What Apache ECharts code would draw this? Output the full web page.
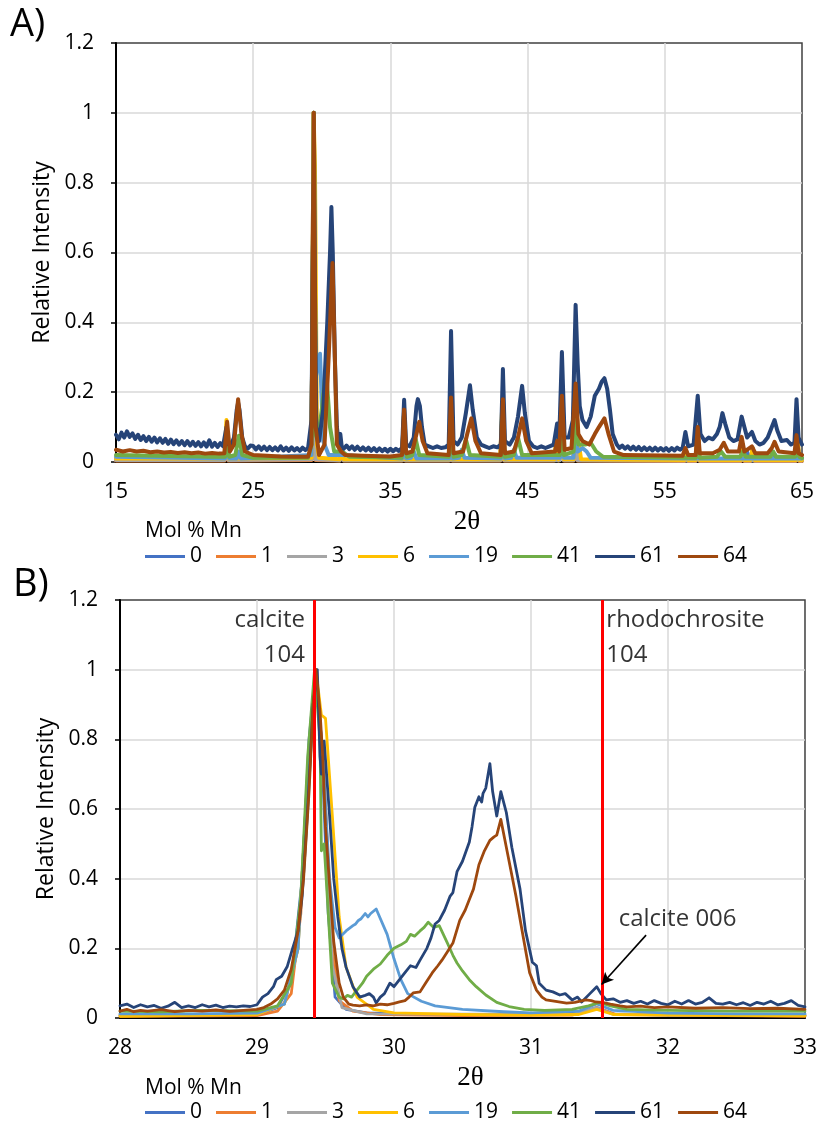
<!DOCTYPE html>
<html>
<head>
<meta charset="utf-8">
<script src="https://cdn.jsdelivr.net/npm/echarts@6/dist/echarts.min.js"></script>
<style>
  html, body { margin: 0; padding: 0; background: #fff; }
  #main { width: 820px; height: 1122px; }
</style>
</head>
<body>
<div id="main"></div>
<script>
// legend names (Mol % Mn) and Excel colours
var seriesNames = ['0', '1', '3', '6', '19', '41', '61', '64'];
var colors = ['#4472C4', '#ED7D31', '#A5A5A5', '#FFC000', '#5B9BD5', '#70AD47', '#264478', '#9E480E'];

var xTicksTop = [15, 25, 35, 45, 55, 65];
var xTicksBot = [28, 29, 30, 31, 32, 33];
var refLines = [29.42, 31.52];   // calcite 104, rhodochrosite 104

// ---- panel A : 15-65 2theta ----
var top0 = [[15,0.008],[22.9,0.008],[23.05,0.08],[23.2,0.008],[29.25,0.01],[29.4,1.0],[29.55,0.01],[31.3,0.006],[31.45,0.03],[31.6,0.006],[35.85,0.006],[35.97,0.12],[36.1,0.006],[39.28,0.006],[39.4,0.18],[39.52,0.006],[43.0,0.006],[43.15,0.14],[43.3,0.006],[46.95,0.006],[47.1,0.06],[47.25,0.006],[47.35,0.006],[47.5,0.17],[47.65,0.006],[48.35,0.006],[48.5,0.17],[48.65,0.006],[56.45,0.005],[56.57,0.03],[56.7,0.005],[57.25,0.005],[57.4,0.08],[57.55,0.005],[60.55,0.005],[60.68,0.05],[60.8,0.005],[60.9,0.005],[61.0,0.03],[61.1,0.005],[61.25,0.005],[61.4,0.04],[61.55,0.005],[62.95,0.005],[63.05,0.02],[63.15,0.005],[64.55,0.005],[64.68,0.06],[64.8,0.005],[65,0.005]];
var top1 = [[15,0.004],[22.9,0.004],[23.05,0.09],[23.2,0.004],[29.25,0.006],[29.4,1.0],[29.55,0.006],[31.3,0.004],[31.45,0.03],[31.6,0.004],[35.85,0.004],[35.97,0.11],[36.1,0.004],[39.28,0.004],[39.4,0.17],[39.52,0.004],[43.0,0.004],[43.15,0.13],[43.3,0.004],[46.95,0.004],[47.1,0.05],[47.25,0.004],[47.35,0.004],[47.5,0.16],[47.65,0.004],[48.35,0.004],[48.5,0.16],[48.65,0.004],[56.45,0.003],[56.57,0.025],[56.7,0.003],[57.25,0.003],[57.4,0.07],[57.55,0.003],[60.55,0.003],[60.68,0.045],[60.8,0.003],[61.25,0.003],[61.4,0.035],[61.55,0.003],[64.55,0.003],[64.68,0.05],[64.8,0.003],[65,0.003]];
var top3 = [[15,0.006],[22.9,0.006],[23.05,0.085],[23.2,0.006],[29.25,0.008],[29.4,1.0],[29.55,0.008],[31.3,0.005],[31.45,0.03],[31.6,0.005],[35.85,0.005],[35.97,0.115],[36.1,0.005],[39.28,0.005],[39.4,0.175],[39.52,0.005],[43.0,0.005],[43.15,0.135],[43.3,0.005],[47.35,0.005],[47.5,0.165],[47.65,0.005],[48.35,0.005],[48.5,0.165],[48.65,0.005],[57.25,0.004],[57.4,0.075],[57.55,0.004],[60.55,0.004],[60.68,0.045],[60.8,0.004],[64.55,0.004],[64.68,0.055],[64.8,0.004],[65,0.004]];
var top6 = [[15,0.01],[22.9,0.01],[23.05,0.12],[23.2,0.01],[29.25,0.012],[29.4,1.0],[29.5,0.85],[29.65,0.05],[29.8,0.012],[31.3,0.008],[31.45,0.03],[31.6,0.008],[35.85,0.008],[35.97,0.13],[36.1,0.008],[39.28,0.008],[39.4,0.19],[39.52,0.008],[43.0,0.008],[43.15,0.16],[43.3,0.008],[46.95,0.008],[47.1,0.07],[47.25,0.008],[47.35,0.008],[47.5,0.2],[47.65,0.008],[48.35,0.008],[48.5,0.2],[48.7,0.06],[48.9,0.008],[56.45,0.006],[56.57,0.03],[56.7,0.006],[57.25,0.006],[57.4,0.09],[57.55,0.006],[60.55,0.006],[60.68,0.05],[60.8,0.006],[61.25,0.006],[61.4,0.04],[61.55,0.006],[64.55,0.006],[64.68,0.07],[64.8,0.006],[65,0.006]];
var top19 = [[15,0.015],[22.95,0.01],[23.1,0.045],[23.25,0.01],[23.8,0.01],[23.95,0.03],[24.1,0.01],[29.25,0.02],[29.42,1.0],[29.55,0.24],[29.87,0.31],[30.1,0.06],[30.5,0.02],[31.5,0.02],[35.85,0.01],[36.0,0.05],[36.15,0.01],[36.5,0.012],[36.7,0.03],[36.9,0.01],[39.28,0.01],[39.42,0.08],[39.55,0.01],[40.0,0.012],[40.2,0.035],[40.4,0.012],[43.05,0.01],[43.2,0.07],[43.35,0.01],[43.8,0.012],[44.0,0.035],[44.2,0.012],[47.35,0.012],[47.5,0.08],[47.65,0.012],[48.35,0.012],[48.5,0.1],[48.65,0.03],[49.0,0.04],[49.3,0.03],[49.6,0.012],[57.3,0.01],[57.4,0.03],[57.5,0.01],[65,0.01]];
var top41 = [[15,0.02],[18,0.018],[22,0.015],[22.95,0.015],[23.1,0.05],[23.25,0.015],[23.7,0.02],[23.95,0.075],[24.2,0.02],[25,0.012],[29,0.012],[29.25,0.05],[29.42,1.0],[29.55,0.08],[29.7,0.06],[30.0,0.15],[30.3,0.27],[30.6,0.1],[30.9,0.03],[31.5,0.03],[32,0.015],[35.8,0.012],[36.0,0.06],[36.2,0.015],[36.6,0.02],[36.85,0.065],[37.1,0.02],[39.25,0.015],[39.42,0.1],[39.6,0.015],[40.2,0.02],[40.5,0.065],[40.8,0.02],[43.05,0.015],[43.2,0.1],[43.35,0.015],[44.0,0.02],[44.3,0.07],[44.6,0.02],[47.35,0.02],[47.5,0.1],[47.65,0.02],[48.35,0.03],[48.5,0.12],[48.7,0.05],[49.2,0.05],[49.6,0.055],[50.0,0.03],[50.5,0.015],[57.25,0.012],[57.4,0.03],[57.55,0.012],[58.8,0.015],[59.1,0.03],[59.4,0.015],[60.5,0.015],[60.7,0.03],[60.9,0.015],[62.7,0.015],[62.9,0.03],[63.1,0.015],[64.5,0.015],[64.65,0.035],[64.8,0.015],[65,0.012]];
var top61 = [[15.0,0.078],[15.2,0.065],[15.4,0.084],[15.6,0.07],[15.8,0.088],[16.0,0.072],[16.2,0.082],[16.4,0.066],[16.6,0.078],[16.8,0.063],[17.0,0.074],[17.2,0.06],[17.4,0.072],[17.6,0.058],[17.8,0.07],[18.0,0.056],[18.2,0.068],[18.4,0.055],[18.6,0.066],[18.8,0.052],[19.0,0.064],[19.2,0.051],[19.4,0.062],[19.6,0.05],[19.8,0.06],[20.0,0.048],[20.2,0.06],[20.4,0.047],[20.6,0.058],[20.8,0.046],[21.0,0.057],[21.2,0.045],[21.4,0.056],[21.6,0.044],[21.8,0.062],[22.0,0.044],[22.2,0.055],[22.4,0.043],[22.6,0.054],[22.8,0.045],[23.05,0.1],[23.2,0.05],[23.4,0.05],[23.6,0.07],[23.8,0.15],[23.9,0.17],[24.0,0.15],[24.2,0.07],[24.4,0.045],[24.6,0.038],[24.8,0.047],[25.0,0.046],[25.2,0.036],[25.4,0.045],[25.6,0.035],[25.8,0.044],[26.0,0.034],[26.2,0.043],[26.4,0.034],[26.6,0.042],[26.8,0.033],[27.0,0.045],[27.2,0.033],[27.4,0.041],[27.6,0.032],[27.8,0.042],[28.0,0.033],[28.2,0.04],[28.4,0.032],[28.6,0.041],[28.8,0.034],[29.0,0.04],[29.1,0.045],[29.25,0.12],[29.35,0.6],[29.42,0.8],[29.5,0.5],[29.6,0.1],[29.8,0.06],[30.1,0.15],[30.4,0.4],[30.6,0.6],[30.7,0.73],[30.8,0.6],[30.95,0.3],[31.1,0.1],[31.25,0.05],[31.35,0.08],[31.45,0.045],[31.6,0.038],[31.8,0.047],[32.0,0.037],[32.2,0.045],[32.4,0.035],[32.6,0.044],[32.8,0.034],[33.0,0.042],[33.2,0.033],[33.4,0.041],[33.6,0.032],[33.8,0.04],[34.0,0.031],[34.2,0.039],[34.4,0.031],[34.6,0.038],[34.8,0.03],[35.0,0.038],[35.2,0.031],[35.4,0.038],[35.6,0.032],[35.85,0.04],[36.0,0.178],[36.15,0.05],[36.4,0.045],[36.7,0.07],[36.9,0.16],[37.0,0.18],[37.15,0.16],[37.3,0.1],[37.5,0.05],[37.8,0.045],[38.1,0.04],[38.4,0.045],[38.7,0.04],[39.0,0.042],[39.25,0.05],[39.42,0.375],[39.6,0.06],[39.9,0.05],[40.2,0.07],[40.5,0.14],[40.8,0.22],[41.0,0.15],[41.3,0.07],[41.6,0.05],[41.9,0.045],[42.2,0.04],[42.5,0.045],[42.8,0.042],[43.05,0.05],[43.2,0.266],[43.35,0.06],[43.7,0.05],[44.0,0.07],[44.3,0.13],[44.6,0.218],[44.8,0.14],[45.1,0.06],[45.4,0.045],[45.7,0.04],[46.0,0.045],[46.3,0.04],[46.6,0.045],[46.9,0.05],[47.15,0.11],[47.3,0.06],[47.5,0.315],[47.7,0.07],[48.0,0.07],[48.3,0.12],[48.5,0.45],[48.65,0.28],[48.8,0.16],[49.0,0.12],[49.3,0.1],[49.6,0.13],[49.9,0.19],[50.2,0.21],[50.4,0.23],[50.6,0.24],[50.8,0.21],[51.0,0.15],[51.2,0.08],[51.5,0.05],[51.7,0.04],[51.9,0.047],[52.1,0.038],[52.3,0.045],[52.5,0.036],[52.7,0.044],[52.9,0.035],[53.1,0.043],[53.3,0.034],[53.5,0.042],[53.7,0.034],[53.9,0.041],[54.1,0.033],[54.3,0.041],[54.5,0.033],[54.7,0.04],[54.9,0.033],[55.1,0.04],[55.3,0.032],[55.5,0.04],[55.7,0.033],[55.9,0.041],[56.1,0.035],[56.3,0.04],[56.5,0.086],[56.7,0.045],[57.1,0.05],[57.4,0.19],[57.6,0.08],[57.9,0.06],[58.2,0.07],[58.5,0.065],[58.8,0.08],[59.0,0.1],[59.2,0.14],[59.4,0.11],[59.7,0.07],[60.0,0.06],[60.3,0.065],[60.6,0.13],[60.8,0.1],[61.0,0.07],[61.35,0.086],[61.6,0.06],[61.9,0.05],[62.2,0.055],[62.5,0.07],[62.8,0.1],[63.0,0.12],[63.2,0.09],[63.5,0.06],[63.9,0.063],[64.2,0.05],[64.45,0.055],[64.6,0.18],[64.75,0.07],[65.0,0.05]];
var top64 = [[15.0,0.035],[15.5,0.03],[16.0,0.034],[16.5,0.03],[17.0,0.032],[17.5,0.028],[18.0,0.03],[18.5,0.027],[19.0,0.029],[19.5,0.026],[20.0,0.028],[20.5,0.025],[21.0,0.027],[21.5,0.024],[22.0,0.026],[22.5,0.024],[22.9,0.025],[23.1,0.115],[23.3,0.03],[23.6,0.05],[23.9,0.18],[24.15,0.08],[24.4,0.03],[25,0.02],[26,0.018],[27,0.016],[28,0.015],[29,0.015],[29.25,0.05],[29.42,1.0],[29.55,0.1],[29.8,0.02],[30.2,0.05],[30.5,0.3],[30.78,0.57],[30.95,0.3],[31.1,0.05],[31.4,0.03],[31.7,0.02],[33,0.018],[35,0.016],[35.85,0.02],[36.0,0.15],[36.15,0.025],[36.6,0.03],[36.9,0.08],[37.1,0.115],[37.35,0.06],[37.7,0.025],[39.25,0.02],[39.42,0.185],[39.6,0.025],[40.3,0.03],[40.6,0.08],[40.9,0.125],[41.2,0.06],[41.6,0.025],[43.05,0.02],[43.2,0.18],[43.35,0.025],[44.0,0.03],[44.3,0.07],[44.6,0.125],[44.9,0.06],[45.3,0.025],[47.0,0.03],[47.15,0.06],[47.3,0.03],[47.5,0.19],[47.7,0.035],[48.2,0.04],[48.5,0.225],[48.7,0.08],[49.0,0.06],[49.5,0.05],[49.9,0.08],[50.2,0.1],[50.6,0.125],[50.9,0.08],[51.3,0.03],[52,0.02],[56.3,0.018],[56.5,0.04],[56.7,0.02],[57.25,0.02],[57.4,0.1],[57.55,0.025],[58.5,0.025],[59.0,0.035],[59.3,0.055],[59.6,0.03],[60.4,0.03],[60.6,0.072],[60.8,0.03],[61.35,0.045],[61.6,0.025],[62.5,0.025],[62.8,0.04],[63.0,0.058],[63.3,0.03],[64.45,0.025],[64.6,0.077],[64.75,0.025],[65.0,0.02]];

// ---- panel B : 28-33 2theta ----
var bot0 = [[28,0.008],[28.5,0.008],[29.0,0.01],[29.15,0.03],[29.25,0.1],[29.33,0.4],[29.38,0.8],[29.43,1.0],[29.47,0.8],[29.52,0.3],[29.57,0.06],[29.65,0.025],[29.8,0.015],[30.2,0.01],[31.0,0.01],[31.35,0.015],[31.48,0.03],[31.6,0.012],[32,0.008],[33,0.008]];
var bot1 = [[28,0.005],[29.0,0.007],[29.15,0.02],[29.25,0.07],[29.32,0.3],[29.37,0.7],[29.43,1.0],[29.5,0.6],[29.55,0.2],[29.6,0.05],[29.7,0.02],[29.9,0.01],[30.5,0.007],[31.3,0.008],[31.48,0.03],[31.62,0.01],[33,0.005]];
var bot3 = [[28,0.008],[29,0.01],[29.2,0.04],[29.3,0.2],[29.37,0.7],[29.43,1.0],[29.49,0.7],[29.55,0.15],[29.62,0.03],[29.8,0.012],[31.3,0.01],[31.48,0.03],[31.6,0.01],[33,0.008]];
var bot6 = [[28,0.005],[29.0,0.01],[29.2,0.04],[29.3,0.2],[29.37,0.7],[29.43,1.0],[29.47,0.87],[29.5,0.86],[29.55,0.58],[29.6,0.29],[29.65,0.146],[29.73,0.06],[29.85,0.025],[30.0,0.015],[30.5,0.01],[31.0,0.008],[31.35,0.01],[31.48,0.025],[31.6,0.01],[32,0.008],[33,0.006]];
var bot19 = [[28,0.012],[28.5,0.012],[29.0,0.014],[29.2,0.04],[29.3,0.2],[29.37,0.7],[29.43,0.99],[29.48,0.75],[29.53,0.4],[29.57,0.26],[29.6,0.23],[29.65,0.25],[29.7,0.265],[29.72,0.27],[29.74,0.28],[29.76,0.285],[29.79,0.3],[29.81,0.29],[29.83,0.3],[29.87,0.313],[29.95,0.24],[30.0,0.17],[30.05,0.11],[30.1,0.07],[30.2,0.048],[30.3,0.035],[30.5,0.025],[30.8,0.018],[31.0,0.015],[31.35,0.02],[31.48,0.04],[31.6,0.022],[32,0.014],[32.5,0.012],[33,0.012]];
var bot41 = [[28,0.02],[28.3,0.018],[28.6,0.022],[29.0,0.02],[29.15,0.035],[29.25,0.1],[29.32,0.35],[29.37,0.75],[29.42,1.0],[29.46,0.8],[29.47,0.48],[29.49,0.5],[29.52,0.3],[29.55,0.1],[29.6,0.06],[29.63,0.055],[29.66,0.065],[29.69,0.06],[29.73,0.08],[29.77,0.1],[29.8,0.12],[29.85,0.14],[29.9,0.155],[29.95,0.18],[30.0,0.2],[30.05,0.21],[30.09,0.22],[30.12,0.24],[30.15,0.235],[30.19,0.25],[30.22,0.26],[30.25,0.275],[30.29,0.26],[30.33,0.265],[30.36,0.24],[30.39,0.215],[30.43,0.18],[30.46,0.158],[30.5,0.135],[30.55,0.11],[30.6,0.09],[30.67,0.066],[30.75,0.045],[30.84,0.033],[30.95,0.025],[31.1,0.022],[31.3,0.025],[31.42,0.035],[31.5,0.045],[31.58,0.035],[31.7,0.025],[32.0,0.022],[32.5,0.02],[33,0.02]];
var bot61 = [[28,0.035],[28.05,0.04],[28.1,0.03],[28.15,0.038],[28.2,0.032],[28.25,0.036],[28.3,0.028],[28.35,0.034],[28.4,0.045],[28.45,0.03],[28.5,0.035],[28.55,0.03],[28.6,0.038],[28.65,0.032],[28.7,0.037],[28.75,0.03],[28.8,0.034],[28.85,0.032],[28.9,0.035],[28.95,0.033],[29.0,0.038],[29.04,0.06],[29.08,0.07],[29.12,0.09],[29.14,0.11],[29.18,0.12],[29.22,0.147],[29.26,0.2],[29.3,0.25],[29.33,0.35],[29.37,0.6],[29.41,0.9],[29.44,1.0],[29.46,0.75],[29.47,0.7],[29.49,0.795],[29.53,0.58],[29.56,0.4],[29.59,0.29],[29.62,0.2],[29.65,0.146],[29.7,0.09],[29.75,0.06],[29.79,0.065],[29.82,0.07],[29.85,0.06],[29.87,0.043],[29.9,0.06],[29.93,0.07],[29.97,0.1],[30.0,0.09],[30.04,0.11],[30.08,0.13],[30.12,0.15],[30.16,0.145],[30.19,0.166],[30.24,0.2],[30.27,0.23],[30.3,0.27],[30.33,0.28],[30.37,0.31],[30.41,0.35],[30.43,0.36],[30.46,0.42],[30.5,0.45],[30.55,0.505],[30.57,0.55],[30.59,0.605],[30.62,0.635],[30.64,0.62],[30.65,0.645],[30.67,0.66],[30.7,0.73],[30.72,0.65],[30.75,0.58],[30.78,0.65],[30.82,0.59],[30.86,0.49],[30.92,0.37],[30.96,0.25],[31.01,0.16],[31.04,0.15],[31.06,0.1],[31.11,0.08],[31.16,0.075],[31.21,0.066],[31.25,0.07],[31.3,0.052],[31.34,0.06],[31.37,0.046],[31.43,0.07],[31.48,0.09],[31.51,0.07],[31.55,0.052],[31.6,0.055],[31.65,0.045],[31.7,0.05],[31.75,0.042],[31.8,0.048],[31.85,0.04],[31.9,0.05],[31.95,0.042],[32.0,0.038],[32.05,0.048],[32.1,0.04],[32.15,0.05],[32.2,0.04],[32.25,0.045],[32.3,0.058],[32.35,0.042],[32.4,0.04],[32.45,0.045],[32.5,0.038],[32.55,0.044],[32.6,0.036],[32.65,0.045],[32.7,0.04],[32.75,0.048],[32.8,0.038],[32.85,0.042],[32.9,0.05],[32.95,0.036],[33.0,0.032]];
var bot64 = [[28,0.02],[28.05,0.025],[28.1,0.018],[28.15,0.022],[28.2,0.02],[28.3,0.024],[28.4,0.018],[28.5,0.022],[28.6,0.02],[28.7,0.023],[28.8,0.019],[28.9,0.022],[29.0,0.025],[29.05,0.03],[29.1,0.04],[29.15,0.055],[29.2,0.08],[29.25,0.14],[29.3,0.25],[29.34,0.4],[29.38,0.65],[29.41,0.9],[29.43,1.0],[29.46,0.88],[29.48,0.75],[29.5,0.55],[29.53,0.38],[29.56,0.22],[29.6,0.1],[29.63,0.06],[29.67,0.04],[29.7,0.037],[29.75,0.035],[29.8,0.038],[29.85,0.035],[29.9,0.04],[29.95,0.038],[30.0,0.042],[30.04,0.046],[30.08,0.05],[30.11,0.06],[30.14,0.072],[30.19,0.075],[30.23,0.1],[30.28,0.13],[30.32,0.15],[30.35,0.166],[30.39,0.19],[30.43,0.215],[30.48,0.28],[30.52,0.31],[30.55,0.34],[30.58,0.37],[30.62,0.44],[30.66,0.48],[30.7,0.51],[30.73,0.52],[30.75,0.525],[30.78,0.57],[30.83,0.47],[30.89,0.35],[30.94,0.24],[30.99,0.13],[31.04,0.08],[31.08,0.06],[31.11,0.052],[31.18,0.048],[31.26,0.043],[31.32,0.045],[31.4,0.052],[31.44,0.05],[31.47,0.046],[31.52,0.045],[31.58,0.04],[31.65,0.035],[31.7,0.032],[31.8,0.034],[31.9,0.03],[32.0,0.032],[32.2,0.028],[32.4,0.03],[32.6,0.027],[32.8,0.028],[33.0,0.025]];

var topData = [top0, top1, top3, top6, top19, top41, top61, top64];
var botData = [bot0, bot1, bot3, bot6, bot19, bot41, bot61, bot64];

// annotation labels in panel B (data coords)
var notes = [
  { value: [29.35, 1.142], text: 'calcite', pos: 'left' },
  { value: [29.35, 1.042], text: '104', pos: 'left' },
  { value: [31.55, 1.142], text: 'rhodochrosite', pos: 'right' },
  { value: [31.55, 1.042], text: '104', pos: 'right' },
  { value: [31.64, 0.284], text: 'calcite 006', pos: 'right' }
];
var arrowFrom = [31.84, 0.238];
var arrowTo = [31.515, 0.096];

var FONT = 'Open Sans';
var chart = echarts.init(document.getElementById('main'));

function xAxis(gridIndex, ticks) {
  return {
    type: 'value', gridIndex: gridIndex,
    min: ticks[0], max: ticks[ticks.length - 1], interval: ticks[1] - ticks[0],
    name: '2θ', nameLocation: 'middle', nameGap: 46,
    nameTextStyle: { fontFamily: 'Liberation Serif', fontSize: 27, color: '#000', padding: [0, 0, 0, 16] },
    axisLine: { show: true, onZero: false, lineStyle: { color: '#000', width: 2 } },
    axisTick: { show: false },
    axisLabel: { fontFamily: FONT, fontSize: 21, color: '#000', margin: 20 },
    splitLine: { show: true, showMaxLine: false, lineStyle: { color: '#d9d9d9', width: 1.5 } }
  };
}
function yAxis(gridIndex) {
  return {
    type: 'value', gridIndex: gridIndex, min: 0, max: 1.2, interval: 0.2,
    name: 'Relative Intensity', nameLocation: 'middle', nameGap: 62, nameRotate: 90,
    nameTextStyle: { fontFamily: FONT, fontSize: 23, color: '#000' },
    axisLine: { show: true, lineStyle: { color: '#000', width: 2 } },
    axisTick: { show: true, length: 5, lineStyle: { color: '#000', width: 1.5 } },
    axisLabel: { fontFamily: FONT, fontSize: 21, color: '#000', margin: 22 },
    splitLine: { show: true, showMaxLine: false, lineStyle: { color: '#d9d9d9', width: 1.5 } }
  };
}

var series = [];
seriesNames.forEach(function (n, i) {
  series.push({
    name: n, type: 'line', xAxisIndex: 0, yAxisIndex: 0, data: topData[i],
    showSymbol: false, symbol: 'none', animation: false,
    color: colors[i],
    lineStyle: { width: 4, color: colors[i], join: 'round', cap: 'round' }
  });
});
seriesNames.forEach(function (n, i) {
  var s = {
    name: n, type: 'line', xAxisIndex: 1, yAxisIndex: 1, data: botData[i],
    showSymbol: false, symbol: 'none', animation: false,
    color: colors[i],
    lineStyle: { width: 2.8, color: colors[i], join: 'round', cap: 'round' }
  };
  if (i === seriesNames.length - 1) {
    s.markLine = {
      silent: true, animation: false, symbol: ['none', 'none'],
      label: { show: false },
      data: refLines.map(function (x) {
        return { xAxis: x, lineStyle: { color: '#ff0000', width: 3, type: 'solid' } };
      }).concat([[
        { coord: arrowFrom, symbol: 'none' },
        { coord: arrowTo, symbol: 'arrow', symbolSize: [9, 12], lineStyle: { color: '#000', width: 1.6, type: 'solid' } }
      ]])
    };
  }
  series.push(s);
});
series.push({
  type: 'scatter', xAxisIndex: 1, yAxisIndex: 1, symbolSize: 0, silent: true, animation: false,
  data: notes.map(function (d) {
    return {
      value: d.value,
      label: { show: true, position: d.pos, distance: 0, formatter: d.text,
               fontFamily: FONT, fontSize: 24, color: '#000' }
    };
  }),
  z: 10
});

function legend(top) {
  return {
    data: seriesNames, top: top, left: 140, icon: 'rect', itemWidth: 40, itemHeight: 3,
    itemGap: 14, textStyle: { fontFamily: FONT, fontSize: 21, color: '#000' },
    selectedMode: false
  };
}

chart.setOption({
  backgroundColor: '#fff',
  animation: false,
  grid: [
    { left: 116, right: 18, top: 43, height: 419, show: true, borderColor: '#404040', borderWidth: 1.5 },
    { left: 120, right: 14, top: 600, height: 418, show: true, borderColor: '#404040', borderWidth: 1.5 }
  ],
  xAxis: [xAxis(0, xTicksTop), xAxis(1, xTicksBot)],
  yAxis: [yAxis(0), yAxis(1)],
  legend: [legend(541), legend(1097)],
  graphic: [
    { type: 'text', left: 10, top: 6, style: { text: 'A)', fontFamily: FONT, fontSize: 38, fill: '#000' } },
    { type: 'text', left: 13, top: 566, style: { text: 'B)', fontFamily: FONT, fontSize: 38, fill: '#000' } },
    { type: 'text', left: 145, top: 521, style: { text: 'Mol % Mn', fontFamily: FONT, fontSize: 21, fill: '#000' } },
    { type: 'text', left: 145, top: 1078, style: { text: 'Mol % Mn', fontFamily: FONT, fontSize: 21, fill: '#000' } }
  ],
  series: series
});
</script>
</body>
</html>
